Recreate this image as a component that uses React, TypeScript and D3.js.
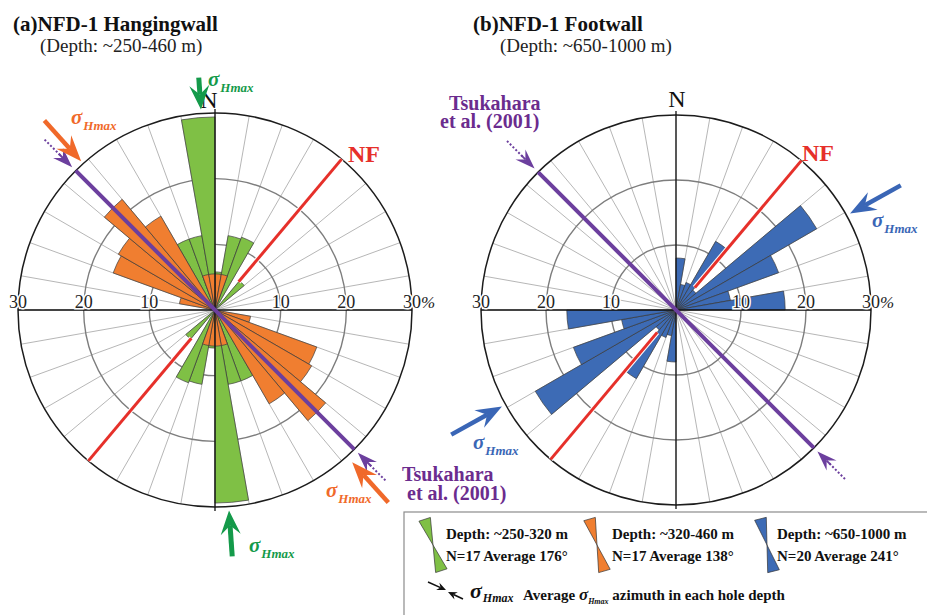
import React from "react";
import * as d3 from "d3";

// ---- data (10° axial bins, % of measurements) ----
const binStarts = d3.range(0, 180, 10);
const greenVals = [5.8, 11.5, 11.8, 0, 5.8, 0, 0, 0, 0, 0, 0, 0, 0, 0, 0, 11.5, 11.5, 29.4];
const orangeVals = [5.5, 5.5, 0, 0, 0, 0, 0, 0, 0, 0, 5.5, 16.5, 17, 22, 16.5, 0, 5.5, 5.5];
const blueVals = [8, 4, 4.5, 12.2, 4, 25, 16.8, 8.5, 16.8, 0, 0, 0, 0, 0, 0, 0, 0, 0];
const ringTicks = [10, 20, 30];
const avgGreen = 176;
const avgOrange = 138;
const avgBlue = 241;
const nfStrike = 40;
const tsukahara = 135;

const FONT = "'Liberation Serif', 'Times New Roman', serif";
const C = {
  green: "#7FC045",
  orange: "#F07E30",
  blue: "#3D6BB5",
  greenArrow: "#149A4A",
  orangeArrow: "#F0692A",
  blueArrow: "#3A66B6",
  purple: "#6C3F9E",
  purpleText: "#6B2C8E",
  red: "#E6302A",
};

const rad = (d: number) => (d * Math.PI) / 180;
const pt = (cx: number, cy: number, deg: number, r: number): [number, number] => [
  cx + r * Math.sin(rad(deg)),
  cy - r * Math.cos(rad(deg)),
];

function arrowShape(x1: number, y1: number, x2: number, y2: number, headLen: number, halfW: number, notch: number) {
  const dx = x2 - x1, dy = y2 - y1;
  const L = Math.hypot(dx, dy);
  const ux = dx / L, uy = dy / L;
  const nx = -uy, ny = ux;
  const bx = x2 - ux * headLen, by = y2 - uy * headLen;
  const mx = x2 - ux * (headLen - notch), my = y2 - uy * (headLen - notch);
  const head = [
    [x2, y2],
    [bx + nx * halfW, by + ny * halfW],
    [mx, my],
    [bx - nx * halfW, by - ny * halfW],
  ]
    .map((p) => p.join(","))
    .join(" ");
  return { head, sx: mx, sy: my };
}

function Arrow({ x1, y1, x2, y2, color, headLen, halfW, notch, width }: any) {
  const a = arrowShape(x1, y1, x2, y2, headLen, halfW, notch);
  return (
    <g>
      <line x1={x1} y1={y1} x2={a.sx} y2={a.sy} stroke={color} strokeWidth={width} />
      <polygon points={a.head} fill={color} />
    </g>
  );
}

function PolarArrow({ cx, cy, deg, rTip, rTail, color, headLen = 24, halfW = 10, notch = 9, width = 4.5 }: any) {
  const [x1, y1] = pt(cx, cy, deg, rTail);
  const [x2, y2] = pt(cx, cy, deg, rTip);
  return <Arrow x1={x1} y1={y1} x2={x2} y2={y2} color={color} headLen={headLen} halfW={halfW} notch={notch} width={width} />;
}

function Sigma({ x, y, color, size = 21, sub = 13 }: any) {
  return (
    <text x={x} y={y} fill={color} fontFamily={FONT} fontStyle="italic" fontWeight="bold">
      <tspan fontSize={size}>σ</tspan>
      <tspan fontSize={sub} dx={1} dy={6}>Hmax</tspan>
    </text>
  );
}

function Rose({ cx, cy, R, series, nfInner, children }: any) {
  const r = d3.scaleLinear().domain([0, 30]).range([0, R]);
  const arc = d3.arc();
  const spokes = d3.range(0, 360, 10);
  const purpleA = pt(cx, cy, tsukahara + 180, R);
  const purpleB = pt(cx, cy, tsukahara, R);
  const nf1a = pt(cx, cy, nfStrike, r(nfInner));
  const nf1b = pt(cx, cy, nfStrike, R);
  const nf2a = pt(cx, cy, nfStrike + 180, r(nfInner));
  const nf2b = pt(cx, cy, nfStrike + 180, R);
  return (
    <g>
      <circle cx={cx} cy={cy} r={R} fill="#fff" />
      {spokes.map((d) => {
        const [x, y] = pt(cx, cy, d, R);
        return <line key={d} x1={cx} y1={cy} x2={x} y2={y} stroke="#a3a3a3" strokeWidth={0.8} />;
      })}
      {ringTicks.slice(0, 2).map((t) => (
        <circle key={t} cx={cx} cy={cy} r={r(t)} fill="none" stroke="#7d7d7d" strokeWidth={1.4} />
      ))}
      {series.map((s: any, si: number) =>
        binStarts.map((b, i) =>
          s.values[i] > 0
            ? [0, 180].map((off) => (
                <path
                  key={`${si}-${i}-${off}`}
                  transform={`translate(${cx},${cy})`}
                  d={
                    arc({
                      innerRadius: 0,
                      outerRadius: r(s.values[i]),
                      startAngle: rad(b + off),
                      endAngle: rad(b + off + 10),
                    } as any) as string
                  }
                  fill={s.color}
                  stroke="#3b3b3b"
                  strokeWidth={0.7}
                />
              ))
            : null
        )
      )}
      <circle cx={cx} cy={cy} r={R} fill="none" stroke="#1c1c1c" strokeWidth={1.5} />
      <line x1={cx} y1={cy - R - 4} x2={cx} y2={cy + R + 4} stroke="#111" strokeWidth={1.3} />
      <line x1={cx - R} y1={cy} x2={cx + R} y2={cy} stroke="#111" strokeWidth={1.3} />
      {/* NF strike */}
      {[[nf1a, nf1b], [nf2a, nf2b]].map((p, i) => (
        <g key={i}>
          <line x1={p[0][0]} y1={p[0][1]} x2={p[1][0]} y2={p[1][1]} stroke="#fff" strokeWidth={5} />
          <line x1={p[0][0]} y1={p[0][1]} x2={p[1][0]} y2={p[1][1]} stroke={C.red} strokeWidth={3} />
        </g>
      ))}
      {/* Tsukahara line */}
      <line x1={purpleA[0]} y1={purpleA[1]} x2={purpleB[0]} y2={purpleB[1]} stroke={C.purple} strokeWidth={4} />
      {[tsukahara, tsukahara + 180].map((d) => {
        const [x1, y1] = pt(cx, cy, d, R + 44);
        const [x2, y2] = pt(cx, cy, d, R + 22);
        return (
          <g key={d}>
            <line x1={x1} y1={y1} x2={x2} y2={y2} stroke={C.purple} strokeWidth={2} strokeDasharray="2,2" />
            <PolarArrow cx={cx} cy={cy} deg={d} rTip={R + 5} rTail={R + 24} color={C.purple} headLen={20} halfW={7} notch={7} width={2} />
          </g>
        );
      })}
      {/* ring labels */}
      {ringTicks.map((t) =>
        [-1, 1].map((s) => (
          <text
            key={`${t}${s}`}
            x={cx + s * r(t)}
            y={cy - 2}
            textAnchor="middle"
            fontFamily={FONT}
            fontSize={18}
            fill="#222"
            stroke="#fff"
            strokeWidth={3}
            paintOrder="stroke"
          >
            {t}
          </text>
        ))
      )}
      <text x={cx + r(30) + 9} y={cy - 2} fontFamily={FONT} fontStyle="italic" fontSize={17} fill="#222">
        %
      </text>
      {children}
    </g>
  );
}

export default function App() {
  const L = { cx: 215, cy: 310, R: 197 };
  const Rt = { cx: 676, cy: 310, R: 195 };
  return (
    <svg width={927} height={615} style={{ position: "absolute", left: 0, top: 0, background: "#fff" }} fontFamily={FONT}>
      <rect width={927} height={615} fill="#fff" />
      {/* Titles */}
      <text x={13} y={31} fontSize={21} fontWeight="bold" fill="#111">(a)NFD-1 Hangingwall</text>
      <text x={40} y={52} fontSize={19} fill="#222">(Depth: ~250-460 m)</text>
      <text x={473} y={31} fontSize={21} fontWeight="bold" fill="#111">(b)NFD-1 Footwall</text>
      <text x={500} y={52} fontSize={19} fill="#222">(Depth: ~650-1000 m)</text>

      {/* Left rose */}
      <Rose cx={L.cx} cy={L.cy} R={L.R} nfInner={5.6}
        series={[{ values: greenVals, color: C.green }, { values: orangeVals, color: C.orange }]}>
      </Rose>
      <text x={209} y={108} textAnchor="middle" fontSize={24} fill="#111">N</text>
      <PolarArrow cx={L.cx} cy={L.cy} deg={avgGreen + 180} rTip={L.R + 4} rTail={L.R + 36} color={C.greenArrow} headLen={24} halfW={10} notch={9} width={5} />
      <PolarArrow cx={L.cx} cy={L.cy} deg={avgGreen} rTip={L.R + 4} rTail={L.R + 50} color={C.greenArrow} headLen={24} halfW={10} notch={9} width={5} />
      <PolarArrow cx={L.cx} cy={L.cy} deg={avgOrange + 180} rTip={L.R + 3} rTail={L.R + 58} color={C.orangeArrow} headLen={26} halfW={10} notch={9} width={4.5} />
      <PolarArrow cx={L.cx} cy={L.cy} deg={avgOrange} rTip={L.R + 8} rTail={L.R + 62} color={C.orangeArrow} headLen={26} halfW={10} notch={9} width={4.5} />
      <Sigma x={208} y={86} color={C.greenArrow} />
      <Sigma x={71} y={124} color={C.orangeArrow} />
      <Sigma x={326} y={497} color={C.orangeArrow} />
      <Sigma x={249} y={552} color={C.greenArrow} />
      <text x={348} y={162} fontSize={24} fontWeight="bold" fill={C.red}>NF</text>
      <text x={402} y={481} fontSize={20} fontWeight="bold" fill={C.purpleText}>Tsukahara</text>
      <text x={407} y={500} fontSize={20} fontWeight="bold" fill={C.purpleText}>et al. (2001)</text>

      {/* Right rose */}
      <Rose cx={Rt.cx} cy={Rt.cy} R={Rt.R} nfInner={4.5} series={[{ values: blueVals, color: C.blue }]}></Rose>
      <text x={677} y={107} textAnchor="middle" fontSize={24} fill="#111">N</text>
      <PolarArrow cx={Rt.cx} cy={Rt.cy} deg={avgBlue - 180} rTip={Rt.R + 4} rTail={Rt.R + 62} color={C.blueArrow} headLen={26} halfW={10} notch={9} width={4.5} />
      <PolarArrow cx={Rt.cx} cy={Rt.cy} deg={avgBlue} rTip={Rt.R + 4} rTail={Rt.R + 62} color={C.blueArrow} headLen={26} halfW={10} notch={9} width={4.5} />
      <Sigma x={872} y={227} color={C.blueArrow} />
      <Sigma x={473} y={449} color={C.blueArrow} />
      <text x={802} y={161} fontSize={24} fontWeight="bold" fill={C.red}>NF</text>
      <text x={449} y={110} fontSize={20} fontWeight="bold" fill={C.purpleText}>Tsukahara</text>
      <text x={440} y={128} fontSize={20} fontWeight="bold" fill={C.purpleText}>et al. (2001)</text>

      {/* Legend */}
      <rect x={404} y={512} width={540} height={120} fill="#fff" stroke="#8c8c8c" strokeWidth={1.2} />
      {[
        { x: 433, color: C.green, ang: -18, t1: "Depth: ~250-320 m", t2: "N=17 Average 176°", tx: 446 },
        { x: 597, color: C.orange, ang: -16, t1: "Depth: ~320-460 m", t2: "N=17 Average 138°", tx: 612 },
        { x: 767, color: C.blue, ang: -14, t1: "Depth: ~650-1000 m", t2: "N=20 Average 241°", tx: 777 },
      ].map((l) => {
        const cy = 545;
        const len = 27, hw = 6;
        const tri = (dir: number) => {
          const [bx, by] = pt(l.x, cy, l.ang + dir, len);
          const nx = Math.cos(rad(l.ang)), ny = Math.sin(rad(l.ang));
          return `${l.x},${cy} ${bx + nx * hw},${by + ny * hw} ${bx - nx * hw},${by - ny * hw}`;
        };
        return (
          <g key={l.t1}>
            <polygon points={tri(0)} fill={l.color} stroke="#333" strokeWidth={0.7} />
            <polygon points={tri(180)} fill={l.color} stroke="#333" strokeWidth={0.7} />
            <text x={l.tx} y={539} fontSize={15} fontWeight="bold" fill="#111">{l.t1}</text>
            <text x={l.tx} y={561} fontSize={15} fontWeight="bold" fill="#111">{l.t2}</text>
          </g>
        );
      })}
      <Arrow x1={428} y1={582} x2={446} y2={590} color="#111" headLen={9} halfW={4} notch={3} width={1.5} />
      <Arrow x1={463} y1={599} x2={448} y2={592} color="#111" headLen={9} halfW={4} notch={3} width={1.5} />
      <text x={470} y={598} fill="#111" fontStyle="italic" fontWeight="bold">
        <tspan fontSize={22}>σ</tspan>
        <tspan fontSize={12} dx={1} dy={4}>Hmax</tspan>
      </text>
      <text x={523} y={600} fontSize={15} fontWeight="bold" fill="#111">
        Average <tspan fontStyle="italic" fontSize={17}>σ</tspan>
        <tspan fontStyle="italic" fontSize={8} dy={4}>Hmax</tspan>
        <tspan dy={-4}> azimuth in each hole depth</tspan>
      </text>
    </svg>
  );
}
